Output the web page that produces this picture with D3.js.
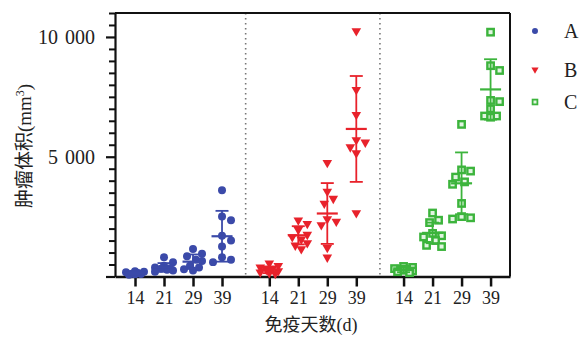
<!DOCTYPE html>
<html><head><meta charset="utf-8">
<script src="https://cdn.jsdelivr.net/npm/d3@7"></script>
<style>body{margin:0;background:#fff}</style>
</head><body>
<script>
const days = ["14", "21", "29", "39"];
const groups = ["A", "B", "C"];
const colors = ["#3b4aa9", "#e8222b", "#3cb43c"];
const valuesA = [
  [220, 180, 150, 120, 100, 90, 70, 200],
  [800, 600, 450, 380, 320, 280, 250, 200, 350],
  [1150, 950, 850, 700, 650, 450, 380, 300, 250],
  [3600, 2500, 2350, 1700, 1500, 1250, 800, 700, 600]
];
const valuesB = [
  [550, 450, 380, 320, 280, 230, 180, 150, 120],
  [2350, 2200, 1950, 1750, 1650, 1550, 1400, 1300, 1150],
  [4750, 3550, 3250, 3050, 2400, 2300, 2150, 1200, 800],
  [10250, 7800, 6750, 5700, 5600, 5400, 5150, 2650]
];
const valuesC = [
  [420, 380, 330, 300, 260, 230, 200, 160, 300],
  [2650, 2350, 2250, 1800, 1700, 1650, 1500, 1300, 1250],
  [6350, 4450, 4400, 4150, 3950, 3850, 3050, 2500, 2450, 2400],
  [10200, 8800, 8600, 7350, 7300, 7000, 6700, 6650, 6700]
];
const meanA = [150, 380, 620, 1680];
const sdA = [70, 180, 300, 1060];
const meanB = [280, 1720, 2630, 6160];
const sdB = [140, 380, 1270, 2210];
const meanC = [270, 1820, 3890, 7810];
const sdC = [90, 430, 1290, 1260];
const yMajorTicks = [0, 5000, 10000];
const yTitle = "肿瘤体积";
const xTitle = "免疫天数";

const allValues = [valuesA, valuesB, valuesC];
const allMeans = [meanA, meanB, meanC];
const allSds = [sdA, sdB, sdC];

const W = 579, H = 340;
const L = 115, R = 510, T = 13, B = 276.5;
const groupStep = 4.63;
const svg = d3.select("body").append("svg").attr("width", W).attr("height", H);

const y = d3.scaleLinear().domain([0, 11000]).range([B, T]);
const x = d3.scaleLinear().domain([-0.69, 12.93]).range([L, R]);
const pos = (g, i) => g * groupStep + i;

const serif = "'Liberation Serif','DejaVu Serif',serif";
const cjk = "'Noto Sans CJK SC','Noto Sans',sans-serif";

// separators
[0, 1].forEach(g => {
  const u = pos(g, 3) + (groupStep - 3) / 2;
  svg.append("line").attr("x1", x(u)).attr("x2", x(u)).attr("y1", T).attr("y2", B)
    .attr("stroke", "#777").attr("stroke-width", 1.6).attr("stroke-dasharray", "1.6,3.4");
});

// frame top & right
svg.append("line").attr("x1", L).attr("x2", R).attr("y1", T).attr("y2", T).attr("stroke", "#111").attr("stroke-width", 2);
svg.append("line").attr("x1", R).attr("x2", R).attr("y1", T).attr("y2", B).attr("stroke", "#111").attr("stroke-width", 2);

// y axis minor
const minor = d3.range(0, 11001, 500).filter(v => !yMajorTicks.includes(v));
const yMinor = svg.append("g").attr("transform", `translate(${L},0)`)
  .call(d3.axisLeft(y).tickValues(minor).tickSize(6).tickFormat(""));
yMinor.select(".domain").remove();
yMinor.selectAll(".tick line").attr("stroke", "#111").attr("stroke-width", 2);

const loc = d3.formatLocale({decimal: ".", thousands: " ", grouping: [3], currency: ["", ""]});
const fmt = loc.format(",");
const yAx = svg.append("g").attr("transform", `translate(${L},0)`)
  .call(d3.axisLeft(y).tickValues(yMajorTicks).tickSize(9).tickSizeOuter(0).tickPadding(11)
    .tickFormat(d => d === 0 ? "" : fmt(d)));
yAx.select(".domain").attr("stroke", "#111").attr("stroke-width", 2.2);
yAx.selectAll(".tick line").attr("stroke", "#111").attr("stroke-width", 2.2);
yAx.selectAll(".tick text").attr("font-family", serif).attr("font-size", 20).attr("fill", "#222")
  .style("word-spacing", "2px");

// x axis
const xTicks = [];
groups.forEach((g, gi) => days.forEach((d, di) => xTicks.push(pos(gi, di))));
const xAx = svg.append("g").attr("transform", `translate(0,${B})`)
  .call(d3.axisBottom(x).tickValues(xTicks).tickSize(10).tickSizeOuter(0).tickPadding(5)
    .tickFormat((d, i) => days[i % 4]));
xAx.select(".domain").attr("stroke", "#111").attr("stroke-width", 2.5);
xAx.selectAll(".tick line").attr("stroke", "#111").attr("stroke-width", 2.5);
xAx.selectAll(".tick text").attr("font-family", serif).attr("font-size", 18).attr("fill", "#222");

function drawMarker(sel, gi, cx, cy, scale) {
  const c = colors[gi];
  if (gi === 0) {
    sel.append("path").attr("d", d3.symbol().type(d3.symbolCircle).size(50 * scale * scale)())
      .attr("transform", `translate(${cx},${cy})`).attr("fill", c);
  } else if (gi === 1) {
    sel.append("path").attr("d", d3.symbol().type(d3.symbolTriangle).size(40 * scale * scale)())
      .attr("transform", `translate(${cx},${cy}) rotate(180)`).attr("fill", c);
  } else {
    const s = 6.4 * scale;
    sel.append("rect").attr("x", cx - s / 2).attr("y", cy - s / 2).attr("width", s).attr("height", s)
      .attr("fill", "#e2f4e2").attr("stroke", c).attr("stroke-width", 2.4 * scale);
  }
}

// bounded beeswarm placement (points may overlap when crowded)
function swarm(vals, r, maxOff) {
  const sorted = vals.map((v, i) => ({v, i, py: y(v)})).sort((a, b) => b.v - a.v);
  const cands = [0];
  for (let k = 1; k * 3 <= maxOff; k++) { cands.push(k * 3); cands.push(-k * 3); }
  const placed = [];
  sorted.forEach(p => {
    let best = 0, bestD = -1;
    for (const cand of cands) {
      const d = placed.length ? d3.min(placed, q => Math.hypot(q.off - cand, q.py - p.py)) : Infinity;
      if (d >= 2 * r) { best = cand; bestD = d; break; }
      if (d > bestD) { bestD = d; best = cand; }
    }
    p.off = best;
    placed.push(p);
  });
  return sorted;
}

const pts = svg.append("g");
const bars = svg.append("g");
allValues.forEach((gv, gi) => {
  gv.forEach((vals, di) => {
    const cx = x(pos(gi, di));
    const c = colors[gi];
    swarm(vals, 4, 11).forEach(p => drawMarker(pts, gi, cx + p.off, p.py, 1));
    const m = allMeans[gi][di], s = allSds[gi][di];
    const lo = Math.max(0, m - s), hi = m + s;
    bars.append("line").attr("x1", cx).attr("x2", cx).attr("y1", y(lo)).attr("y2", y(hi))
      .attr("stroke", c).attr("stroke-width", 1.8);
    [lo, hi].forEach(v => bars.append("line").attr("x1", cx - 6.5).attr("x2", cx + 6.5)
      .attr("y1", y(v)).attr("y2", y(v)).attr("stroke", c).attr("stroke-width", 1.8));
    bars.append("line").attr("x1", cx - 10.5).attr("x2", cx + 10.5)
      .attr("y1", y(m)).attr("y2", y(m)).attr("stroke", c).attr("stroke-width", 2.2);
  });
});

// legend
const legY = [31, 69.5, 102];
groups.forEach((g, gi) => {
  const lg = svg.append("g");
  drawMarker(lg, gi, 535, legY[gi], 0.75);
  lg.append("text").attr("x", 564).attr("y", legY[gi]).attr("dy", "0.35em")
    .attr("font-family", serif).attr("font-size", 20).attr("fill", "#222").text(g);
});

// y title
const yt = svg.append("text").attr("transform", `translate(31,146) rotate(-90)`)
  .attr("text-anchor", "middle").attr("fill", "#222").attr("font-size", 19);
yt.append("tspan").attr("font-family", cjk).text(yTitle);
yt.append("tspan").attr("font-family", serif).text("(mm");
yt.append("tspan").attr("font-family", serif).attr("font-size", 12).attr("dy", -7).text("3");
yt.append("tspan").attr("font-family", serif).attr("dy", 7).text(")");

// x title
const xt = svg.append("text").attr("x", 311).attr("y", 331).attr("text-anchor", "middle")
  .attr("fill", "#222").attr("font-size", 18);
xt.append("tspan").attr("font-family", cjk).text(xTitle);
xt.append("tspan").attr("font-family", serif).text("(d)");
</script>
</body></html>
